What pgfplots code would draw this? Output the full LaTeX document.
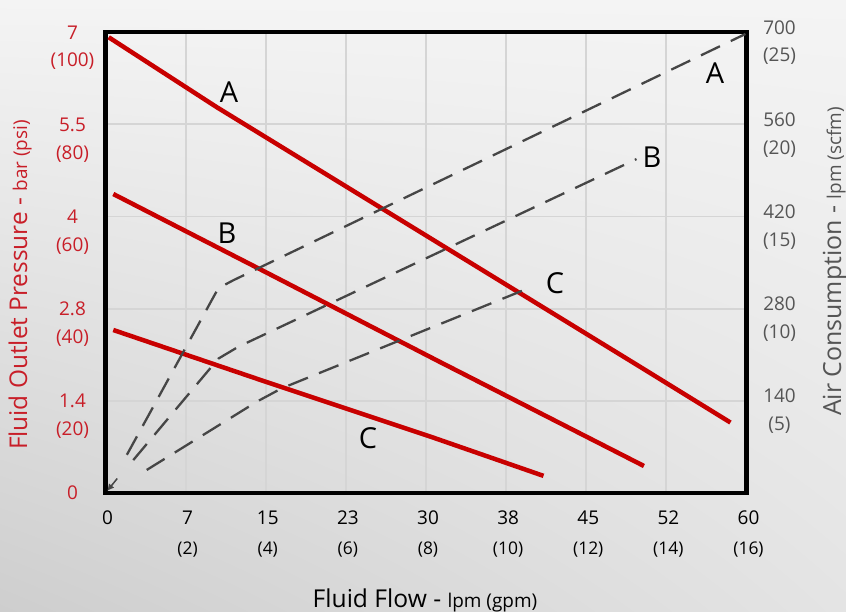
\documentclass[border=0pt]{standalone}
\usepackage{pgfplots}
\pgfplotsset{compat=1.18}
\usetikzlibrary{arrows.meta,shadings}
\usepackage{fontspec}
\setmainfont{Open Sans}
\definecolor{redline}{RGB}{200,0,0}
\definecolor{redtxt}{RGB}{200,30,40}
\definecolor{graytxt}{RGB}{85,85,85}
\definecolor{dashc}{RGB}{70,70,70}
\definecolor{gridc}{RGB}{213,213,213}
\definecolor{bgtop}{RGB}{244,244,244}
\definecolor{bgmid}{RGB}{228,228,228}
\definecolor{bgbot}{RGB}{206,206,206}
\newcommand{\fa}{\fontsize{19}{28}\selectfont}
\newcommand{\fb}{\fontsize{17.5}{19}\selectfont}
\newcommand{\lt}[2]{{\fa\begin{tabular}[t]{@{}c@{}}#1\\#2\end{tabular}}}
\newcommand{\xt}[2]{{\fontsize{19}{30}\selectfont\begin{tabular}[t]{@{}c@{}}#1\\{\fb #2}\end{tabular}}}
\begin{document}
\begin{tikzpicture}
\useasboundingbox (0bp,0bp) rectangle (846bp,612bp);
\shade[lower left=bgbot, lower right=bgmid, upper left=bgtop, upper right=bgtop] (0bp,0bp) rectangle (846bp,612bp);
\begin{axis}[
  at={(105.5bp,119bp)}, anchor=origin,
  scale only axis, width=641bp, height=461bp,
  xmin=0, xmax=60, ymin=0, ymax=7,
  axis line style={line width=4.5bp, black},
  major tick length=0pt,
  grid=major, grid style={gridc, line width=1.8bp},
  xtick={0,7.5,15,22.5,30,37.5,45,52.5,60},
  xticklabels={\xt{0}{},\xt{7}{(2)},\xt{15}{(4)},\xt{23}{(6)},\xt{30}{(8)},\xt{38}{(10)},\xt{45}{(12)},\xt{52}{(14)},\xt{60}{(16)}},
  xticklabel style={anchor=base, yshift=-32bp, xshift=2bp, text=black},
  ytick={0,1.4,2.8,4.2,5.6,7},
  yticklabels={\lt{0}{},\lt{1.4}{(20)},\lt{2.8}{(40)},\lt{4}{(60)},\lt{5.5}{(80)},\lt{7}{(100)}},
  yticklabel style={anchor=base, xshift=-33bp, yshift=-7bp, text=redtxt},
  clip=false,
]
\addplot[redline, line width=4.5bp] coordinates {(0.3,6.92) (10.4,5.86) (30.1,3.90) (50.0,1.92) (58.5,1.07)};
\addplot[redline, line width=4.5bp] coordinates {(0.73,4.54) (14.8,3.37) (31.3,1.99) (50.4,0.41)};
\addplot[redline, line width=4.5bp] coordinates {(0.73,2.475) (14.8,1.70) (30.7,0.84) (41.0,0.26)};
\node[font=\fontsize{29}{31}\selectfont] at (axis cs:11.56,6.09) {A};
\node[font=\fontsize{29}{31}\selectfont] at (axis cs:11.37,3.95) {B};
\node[font=\fontsize{29}{31}\selectfont] at (axis cs:24.57,0.835) {C};
\node[font=\fontsize{29}{31}\selectfont] at (axis cs:57.05,6.38) {A};
\node[font=\fontsize{29}{31}\selectfont] at (axis cs:51.15,5.10) {B};
\node[font=\fontsize{29}{31}\selectfont] at (axis cs:42.07,3.19) {C};
\end{axis}
\begin{axis}[
  at={(105.5bp,119bp)}, anchor=origin,
  scale only axis, width=641bp, height=461bp,
  xmin=0, xmax=60, ymin=0, ymax=700,
  axis y line*=right, axis x line=none,
  axis line style={line width=4.5bp, black},
  major tick length=0pt,
  ytick={140,280,420,560,700},
  yticklabels={\lt{140}{(5)},\lt{280}{(10)},\lt{420}{(15)},\lt{560}{(20)},\lt{700}{(25)}},
  yticklabel style={anchor=base, xshift=33bp, yshift=-2bp, text=graytxt},
  clip=false,
]
\addplot[dashc, line width=2.3bp, dash pattern=on 21bp off 12bp] coordinates {(2.0,58) (10.56,311) (11.96,323) (59.9,697)};
\addplot[dashc, line width=2.3bp, dash pattern=on 21bp off 12bp] coordinates {(2.6,50) (10.56,204) (12.43,222) (49.7,507)};
\addplot[dashc, line width=2.3bp, dash pattern=on 21bp off 12bp] coordinates {(3.86,35) (14.2,139) (16.5,159) (39.9,313)};
\addplot[dashc, line width=1.5bp, -{Latex[length=7bp,width=7bp]}] coordinates {(1.1,22) (0.15,3)};
\end{axis}
\node[anchor=base, rotate=90, text=redtxt] at (27bp,327bp) {{\fontsize{24.5}{26}\selectfont Fluid Outlet Pressure - }{\fontsize{19}{21}\selectfont bar (psi)}};
\node[anchor=base, rotate=90, text=graytxt] at (841bp,350.5bp) {{\fontsize{25}{27}\selectfont Air Consumption - }{\fontsize{19}{21}\selectfont lpm (scfm)}};
\node[anchor=base, text=black] at (425bp,5bp) {{\fontsize{24.7}{26}\selectfont Fluid Flow - }{\fontsize{19}{21}\selectfont lpm (gpm)}};
\end{tikzpicture}
\end{document}
